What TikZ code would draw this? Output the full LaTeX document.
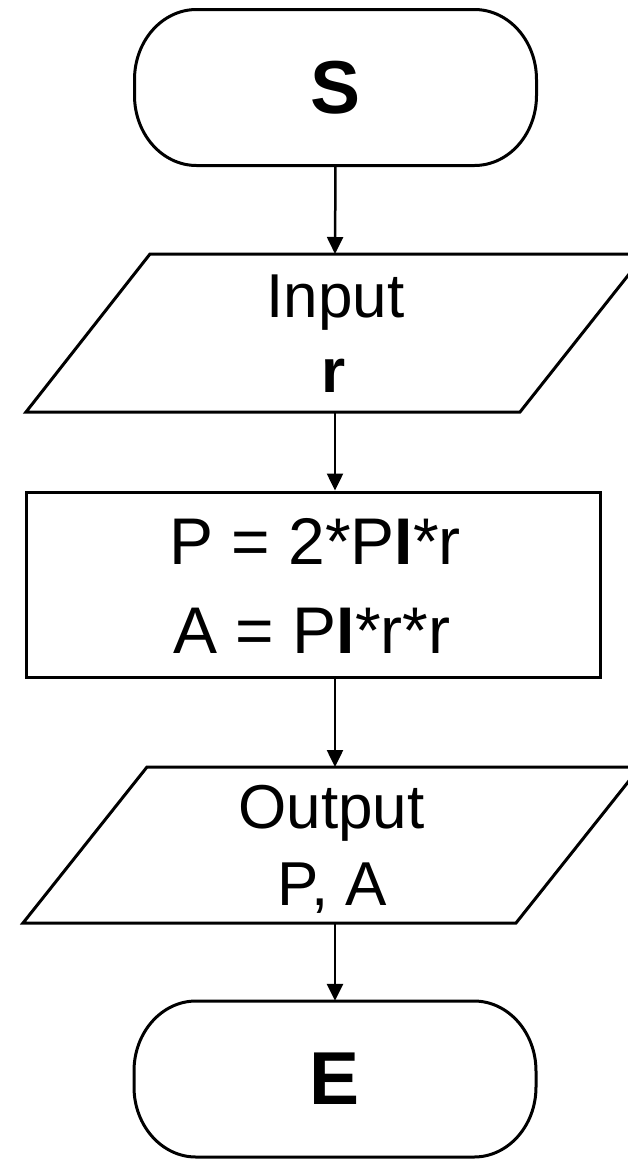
\documentclass[tikz,border=0pt]{standalone}
\usepackage{fontspec}
\setmainfont{Liberation Sans}
\usetikzlibrary{arrows.meta}
\begin{document}
\begin{tikzpicture}[x=1pt,y=-1pt,
  box/.style={draw=black,line width=3pt},
  term/.style={inner sep=0pt,font=\fontsize{75}{80}\selectfont\bfseries},
  termshape/.pic={\draw[box] (-139,-78) -- (139,-78) .. controls (173.2,-78) and (201,-46.7) .. (201,-8) -- (201,8) .. controls (201,46.7) and (173.2,78) .. (139,78) -- (-139,78) .. controls (-173.2,78) and (-201,46.7) .. (-201,8) -- (-201,-8) .. controls (-201,-46.7) and (-173.2,-78) .. (-139,-78) -- cycle;},
  anchorbox/.style={inner sep=0pt,outer sep=0pt,minimum width=400pt},
  txt/.style={anchor=base,inner sep=0pt,font=\fontsize{62}{70}\selectfont},
  ptxt/.style={anchor=base,inner sep=0pt,font=\fontsize{66}{70}\selectfont},
  flow/.style={line width=2.5pt,-{Triangle[width=16pt,length=17pt]}}]
\useasboundingbox (0,0) rectangle (628,1160);
\clip (0,0) rectangle (628,1160);
% start
\node[term,minimum width=403pt,minimum height=157pt] (start) at (335.5,87.5) {S};
\pic at (start.center) {termshape};
% input
\draw[box,line join=miter] (150,254) -- (645,254) -- (520,412) -- (26,412) -- cycle;
\node[anchorbox,minimum height=158pt] (in) at (335,333) {};
\node[txt] (inA) at (335.5,317) {Input};
\node[txt] (inB) at (334,392) {\bfseries r};
% process
\node[box,inner sep=0pt,minimum width=574pt,minimum height=185pt] (proc) at (313,584.5) {};
\node[ptxt] (pA) at (315,564) {P = 2*P\textbf{I}*r};
\node[ptxt] (pB) at (312,653) {A = P\textbf{I}*r*r};
% output
\draw[box,line join=miter] (147,767) -- (640,767) -- (516,923) -- (23,923) -- cycle;
\node[anchorbox,minimum height=156pt] (out) at (335,845) {};
\node[txt] (oA) at (331.5,828) {Output};
\node[txt] (oB) at (332.5,905) {P, A};
% end
\node[term,minimum width=400pt,minimum height=156pt] (end) at (335,1079) {E};
\pic at (end.center) {termshape};
% connectors
\draw[flow] (start.south) -- (in.north);
\draw[flow] (in.south) -- (proc.north -| in.south);
\draw[flow] (proc.south -| in.south) -- (out.north);
\draw[flow] (out.south) -- (end.north);
\end{tikzpicture}
\end{document}
